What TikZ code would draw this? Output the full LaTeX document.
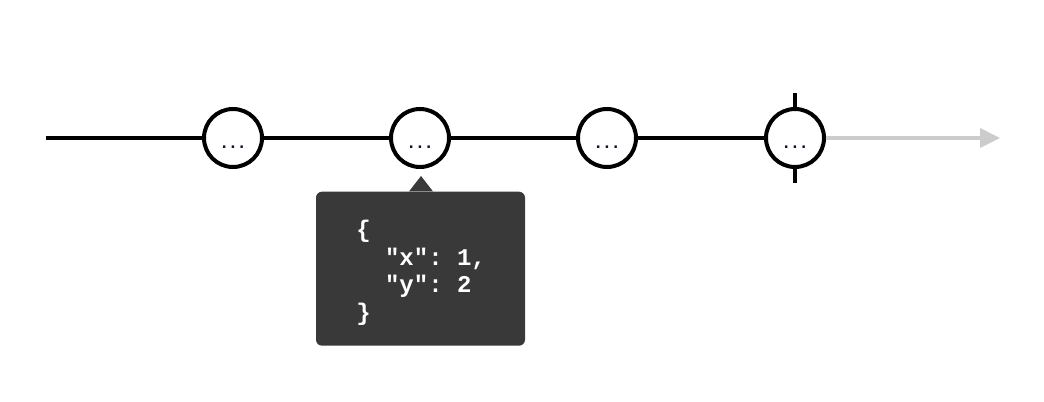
\documentclass[tikz,border=0pt]{standalone}
\usepackage{fontspec}
\setmonofont{Liberation Mono}
\newfontfamily\dotsfont{DejaVu Sans Mono}
\usetikzlibrary{arrows.meta,positioning,calc}
\definecolor{tipgray}{HTML}{393939}
\definecolor{flowgray}{HTML}{CCCCCC}
\definecolor{dotblue}{HTML}{101828}
\tikzset{
    event/.style =  {circle,
                    fill=white,
                    draw=black,
                    text=dotblue,
                    line width=3pt,
                    inner sep=0pt,
                    minimum size=43.5pt,
                    font=\dotsfont\bfseries\fontsize{11}{13}\selectfont,
                    text height=16.5pt,
                    text depth=0pt},
    flow/.style =   {line width=3pt,
                    draw=black},
    tooltip/.style = {rectangle,
                    rounded corners=4.5pt,
                    fill=tipgray,
                    draw=none,
                    minimum width=156.75pt,
                    minimum height=115.5pt,
                    inner sep=0pt},
    code/.style =   {text=white,
                    align=left,
                    inner sep=0pt,
                    font=\ttfamily\bfseries\fontsize{18}{20.6}\selectfont}}

\begin{document}
\begin{tikzpicture}[x=0.75pt,y=-0.75pt]
                \useasboundingbox (0,0) rectangle (1044,402);
                \coordinate (start) at (46,138);
                \coordinate (stop)  at (1000,138);
                \node[event] (e1) at (233,138) {...};
                \node[event] (e2) at (420,138) {...};
                \node[event] (e3) at (607,138) {...};
                \node[event] (e4) at (795,138) {...};
                \draw [flow] (start) -- (e1) -- (e2) -- (e3) -- (e4);
                \draw [flow,draw=flowgray,-{Triangle[length=15pt,width=14.25pt]}] (e4) -- (stop);
                \draw [flow] (e4.north) -- ++(0,-14);
                \draw [flow] (e4.south) -- ++(0,14);
                % value of the selected event
                \node[tooltip] (tip) at (420.5,268.7) {};
                \coordinate (peak) at (421,176);
                \fill [tipgray] (peak) -- (tip.north -| 409,0) -- (tip.north -| 433,0) -- cycle;
                \node[code,anchor=north west] (json) at (356,220)
                    {\{\\\ \ "x":\ 1,\\\ \ "y":\ 2\\\}};
\end{tikzpicture}
\end{document}
